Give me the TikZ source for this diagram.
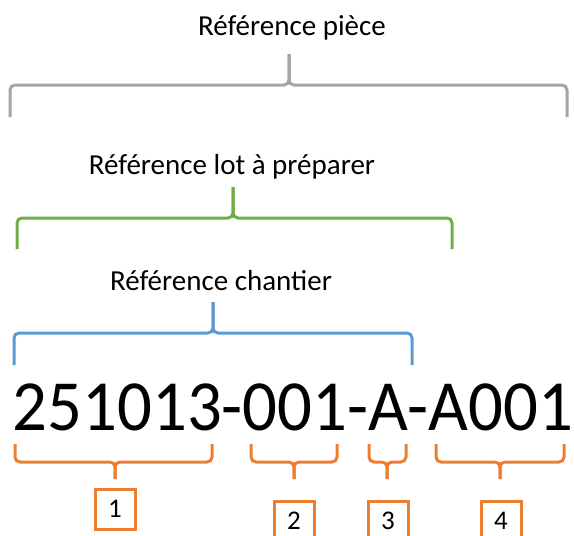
\documentclass[tikz,border=0pt]{standalone}
\usepackage{fontspec}
\setmainfont{Carlito}
\definecolor{refgray}{HTML}{A5A5A5}
\definecolor{refgreen}{HTML}{70AD47}
\definecolor{refblue}{HTML}{5B9BD5}
\definecolor{reforange}{HTML}{ED7D31}

% a Word-like curly brace: colour, x left, x right, x tip, y ends, y bar, y tip
\newcommand{\refbrace}[7]{%
  \draw[bracestroke,#1] (#2,#5) -- (#2,#6) -- (#4,#6) -- (#4,#7);
  \draw[bracestroke,#1] (#3,#5) -- (#3,#6) -- (#4,#6) -- (#4,#7);
}

\begin{document}
\begin{tikzpicture}[x=1pt,y=-1pt,
    bracestroke/.style={line width=3pt,rounded corners=5pt},
    reftext/.style={anchor=base,inner sep=0pt,font=\fontsize{29}{29}\selectfont},
    numtext/.style={inner sep=0pt,font=\fontsize{27}{27}\selectfont},
    numframe/.style={draw=reforange,line width=3pt}]
    \useasboundingbox (0,0) rectangle (574,536);

    % labels
    \node[reftext] (piece) at (292,35) {Référence pièce};
    \node[reftext] (lot) at (232,174) {Référence lot à préparer};
    \node[reftext] (chantier) at (221,290) {Référence chantier};
    \node[anchor=base,inner sep=0pt,font=\fontsize{72}{72}\selectfont] (code) at (293,430)
        {\scalebox{0.955}[1]{251013-001-A-A001}};

    % braces above
    \refbrace{refgray}{10}{567}{289}{117}{85}{54}
    \refbrace{refgreen}{17}{452}{233}{249}{218}{187}
    \refbrace{refblue}{14}{412}{213}{365}{333}{302}

    % braces below
    \refbrace{reforange}{15}{212}{115}{444}{462}{479}
    \refbrace{reforange}{251}{337}{294}{444}{462}{479}
    \refbrace{reforange}{369}{406}{387}{444}{462}{479}
    \refbrace{reforange}{436}{564}{500}{444}{462}{479}

    % numbered boxes
    \node[numtext] (n1) at (115,509) {1};
    \node[numtext] (n2) at (294,521) {2};
    \node[numtext] (n3) at (388,521) {3};
    \node[numtext] (n4) at (501,521) {4};
    \foreach \n in {n1,n2,n3,n4}
        \draw[numframe] (\n.center) ++(-20,-20) rectangle ++(40,40);
\end{tikzpicture}
\end{document}
